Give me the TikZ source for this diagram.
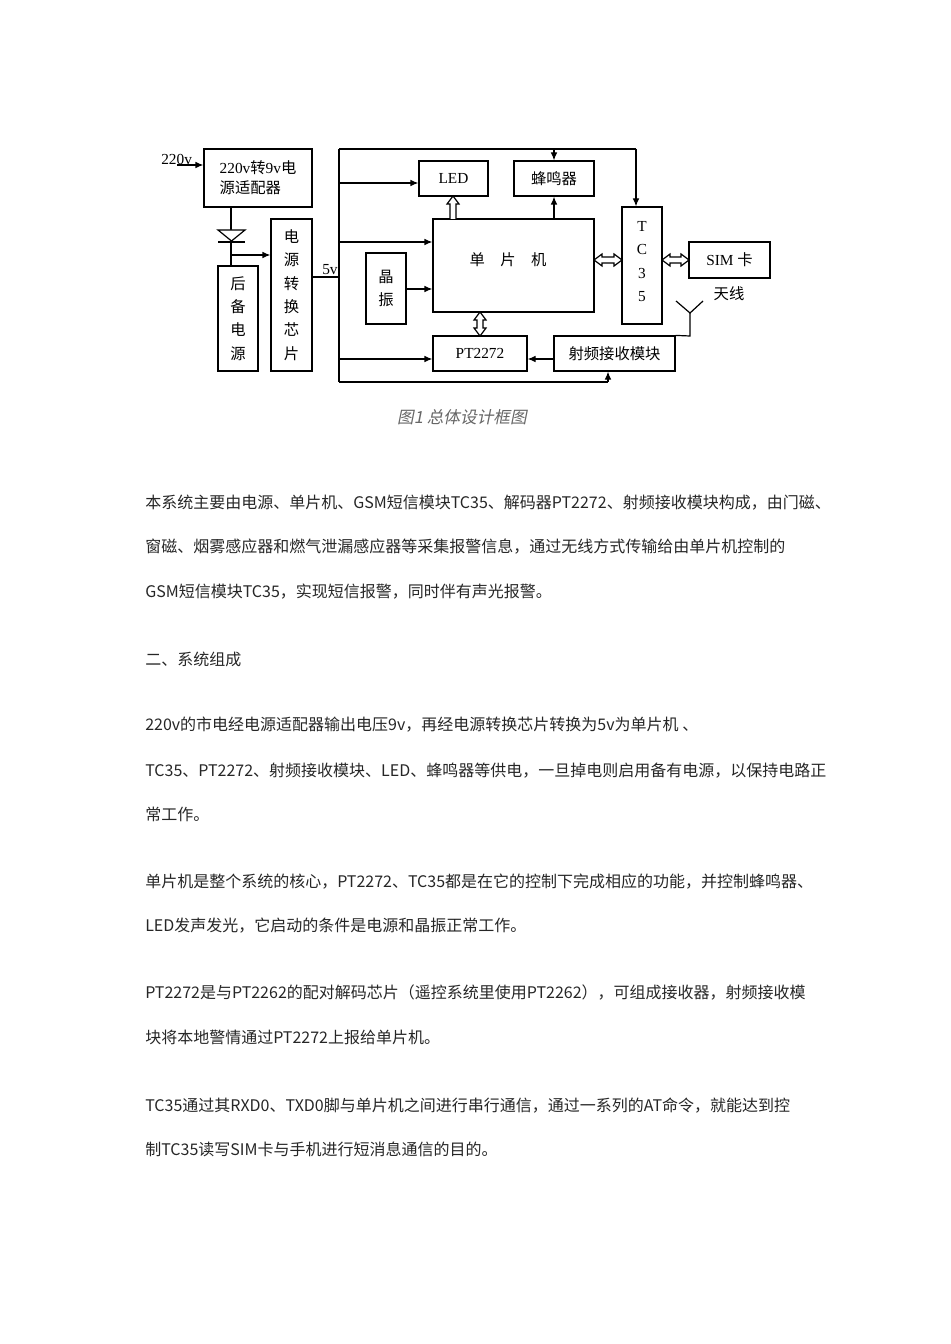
\documentclass[tikz,border=0pt]{standalone}
\usepackage{fontspec}
\setmainfont{Liberation Serif}
\newfontfamily\cjk{Noto Sans CJK SC}
\newfontfamily\cjkit{Noto Sans CJK SC}[FakeSlant=0.2]
\usetikzlibrary{arrows.meta}
\begin{document}
\begin{tikzpicture}[x=0.75pt,y=-0.75pt,
  sz/.style 2 args={minimum width=#1*0.75pt,minimum height=#2*0.75pt},
  box/.style={draw,line width=0.9pt,inner sep=0pt,font=\fontsize{11.5}{13}\selectfont},
  vbox/.style={box,align=center,font=\fontsize{11.5}{17.5}\selectfont\cjk},
  arr/.style={line width=0.9pt,-{Latex[length=6pt,width=5pt]}},
  ln/.style={line width=0.9pt},
  para/.style={anchor=base west,inner sep=0pt,font=\fontsize{12}{13}\selectfont\cjk,text=black!85}]
\useasboundingbox (0,0) rectangle (950,1344);
% boxes
\node[box,sz={108}{58},align=left] (ad) at (258,178) {220v{\cjk 转}9v{\cjk 电}\\[2pt]{\cjk 源适配器}};
\node[vbox,sz={40}{105}] (bk) at (238,318.5) {后\\备\\电\\源};
\node[vbox,sz={41}{152}] (ch) at (291.5,295) {电\\源\\转\\换\\芯\\片};
\node[box,sz={69}{35}] (led) at (453.5,178.5) {LED};
\node[box,sz={80}{35},font=\fontsize{11.5}{13}\selectfont\cjk] (bz) at (554,178.5) {蜂鸣器};
\node[box,sz={161}{93}] (mcu) at (513.5,265.5) {};
\node[font=\fontsize{11.5}{13}\selectfont\cjk] at (508,260) {单\quad 片\quad 机};
\node[vbox,sz={40}{71}] (xt) at (386,288.5) {晶\\振};
\node[box,sz={94}{35}] (pt) at (480,353.5) {PT2272\hspace{12pt}};
\node[box,sz={121}{35},font=\fontsize{11.5}{13}\selectfont\cjk] (rf) at (614.5,353.5) {射频接收模块};
\node[box,sz={40}{117}] (tc) at (642,265.5) {};
\node[align=center,inner sep=0pt,font=\fontsize{11.5}{17.6}\selectfont] (tct) at (642,261.5) {T\\C\\3\\5};
\node[box,sz={81}{36}] (sim) at (729.5,260) {SIM {\cjk 卡}};
\node[font=\fontsize{11.5}{13}\selectfont\cjk] (ant) at (729,294) {天线};
\node[anchor=base west,inner sep=0pt,font=\fontsize{11.5}{13}\selectfont] (in) at (161,165) {220v};
\node[anchor=base west,inner sep=0pt,font=\fontsize{11.5}{13}\selectfont] (fv) at (322,275) {5v};
% coordinates
\coordinate (btl) at (339,149);
\coordinate (bbl) at (339,382);
\coordinate (tr) at (636,149);
\draw[arr] (177,165) -- (ad.west|-0,165);
% diode and power
\draw[ln] (231,207) -- (231,266);
\draw[ln,fill=white] (218,230) -- (245,230) -- (231.5,241) -- cycle;
\draw[ln] (218,242) -- (245,242);
\draw[arr] (231,255) -- (ch.west|-0,255);
\draw[ln] (ch.east|-0,277) -- (339,277);
% bus
\draw[ln] (btl) -- (bbl);
\draw[ln] (btl) -- (tr);
\draw[arr] (tr) -- (tc.north-|tr);
\draw[arr] (554,149) -- (bz.north);
\draw[arr] (339,183) -- (led.west|-0,183);
\draw[arr] (339,242) -- (mcu.west|-0,242);
\draw[arr] (xt.east|-0,289) -- (mcu.west|-0,289);
\draw[arr] (339,359) -- (pt.west|-0,359);
\draw[arr] (rf.west|-0,359) -- (pt.east|-0,359);
\draw[ln] (bbl) -- (608,382);
\draw[arr] (608,382) -- (rf.south-|608,0);
\draw[arr] (mcu.north-|554,0) -- (bz.south);
% hollow arrows
\draw[ln,fill=white] (450,219) -- (450,204) -- (447,204) -- (453,196) -- (459,204) -- (456,204) -- (456,219);
\draw[ln,fill=white] (477,320) -- (474,320) -- (480,312) -- (486,320) -- (483,320) -- (483,328) -- (486,328) -- (480,336) -- (474,328) -- (477,328) -- cycle;
\draw[ln,fill=white] (602,257) -- (602,254) -- (594,260) -- (602,266) -- (602,263) -- (614,263) -- (614,266) -- (622,260) -- (614,254) -- (614,257) -- cycle;
\draw[ln,fill=white] (670,257) -- (670,254) -- (662,260) -- (670,266) -- (670,263) -- (681,263) -- (681,266) -- (689,260) -- (681,254) -- (681,257) -- cycle;
% antenna
\draw[ln] (676,301) -- (690,313) -- (703,301);
\draw[ln] (690,313) -- (690,336) -- (rf.north east);
% caption
\node[font=\fontsize{12.5}{14}\selectfont\cjkit,text=black!60] (cap) at (462,417) {图1\ 总体设计框图};
% paragraphs
\node[para] (p1) at (145,508) {本系统主要由电源、单片机、GSM短信模块TC35、解码器PT2272、射频接收模块构成，由门磁、};
\node[para] (p2) at (145,552) {窗磁、烟雾感应器和燃气泄漏感应器等采集报警信息，通过无线方式传输给由单片机控制的};
\node[para] (p3) at (145,597) {GSM短信模块TC35，实现短信报警，同时伴有声光报警。};
\node[para] (p4) at (145,665) {二、系统组成};
\node[para] (p5) at (145,730) {220v的市电经电源适配器输出电压9v，再经电源转换芯片转换为5v为单片机 、};
\node[para] (p6) at (145,776) {TC35、PT2272、射频接收模块、LED、蜂鸣器等供电，一旦掉电则启用备有电源，以保持电路正};
\node[para] (p7) at (145,820) {常工作。};
\node[para] (p8) at (145,887) {单片机是整个系统的核心，PT2272、TC35都是在它的控制下完成相应的功能，并控制蜂鸣器、};
\node[para] (p9) at (145,931) {LED发声发光，它启动的条件是电源和晶振正常工作。};
\node[para] (p10) at (145,998) {PT2272是与PT2262的配对解码芯片（遥控系统里使用PT2262），可组成接收器，射频接收模};
\node[para] (p11) at (145,1043) {块将本地警情通过PT2272上报给单片机。};
\node[para] (p12) at (145,1111) {TC35通过其RXD0、TXD0脚与单片机之间进行串行通信，通过一系列的AT命令，就能达到控};
\node[para] (p13) at (145,1155) {制TC35读写SIM卡与手机进行短消息通信的目的。};
\end{tikzpicture}
\end{document}
